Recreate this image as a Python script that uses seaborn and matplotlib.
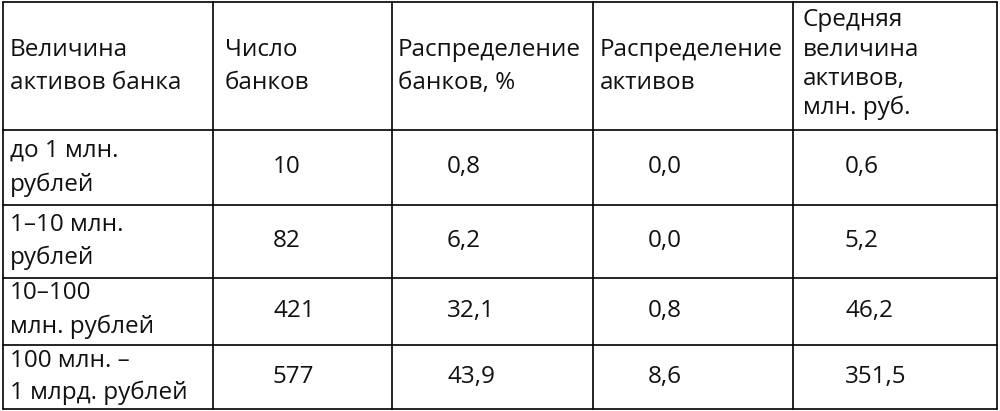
import matplotlib
matplotlib.use("Agg")
import matplotlib.pyplot as plt
import seaborn as sns

sns.set_theme(style="white")
plt.rcParams['font.family'] = ['Open Sans', 'DejaVu Sans']

headers = [["Величина", "активов банка"], ["Число", "банков"],
           ["Распределение", "банков, %"], ["Распределение", "активов"],
           ["Средняя", "величина", "активов,", "млн. руб."]]
categories = [["до 1 млн.", "рублей"], ["1–10 млн.", "рублей"],
              ["10–100", "млн. рублей"], ["100 млн. –", "1 млрд. рублей"]]
bank_count = ["10", "82", "421", "577"]
bank_share = ["0,8", "6,2", "32,1", "43,9"]
asset_share = ["0,0", "0,0", "0,8", "8,6"]
avg_assets = ["0,6", "5,2", "46,2", "351,5"]

W, H = 1000, 411
fig = plt.figure(figsize=(W / 100, H / 100), dpi=100)
ax = fig.add_axes([0, 0, 1, 1])
ax.set_xlim(0, W)
ax.set_ylim(H, 0)
ax.axis("off")

col_x = [3, 213, 392, 593, 793, 997]
row_y = [2, 130, 205, 278, 345, 409]
for x in col_x:
    ax.plot([x, x], [row_y[0], row_y[-1]], color="black", lw=1.2)
for y in row_y:
    ax.plot([col_x[0], col_x[-1]], [y, y], color="black", lw=1.2)

fs = 17.5
hdr_x = [10, 225, 398, 600, 803]
for hx, lines in zip(hdr_x, headers):
    n = len(lines)
    if n == 4:
        ys = [20, 50, 79, 108]
    else:
        ys = [50, 83]
    for t, yy in zip(lines, ys):
        ax.text(hx, yy, t, fontsize=fs, va="center", ha="left", color="#111")

line_pos = [(151, 185), (225, 258), (293, 327), (361, 393)]
val_y = [167, 241, 311, 377]
val_x = [273, 447, 648, 845]
for i, cat in enumerate(categories):
    for t, yy in zip(cat, line_pos[i]):
        ax.text(10, yy, t, fontsize=fs, va="center", ha="left", color="#111")
    for vx, col in zip(val_x, [bank_count, bank_share, asset_share, avg_assets]):
        ax.text(vx, val_y[i], col[i], fontsize=fs, va="center", ha="left", color="#111")

fig.savefig("out.png", dpi=100)
